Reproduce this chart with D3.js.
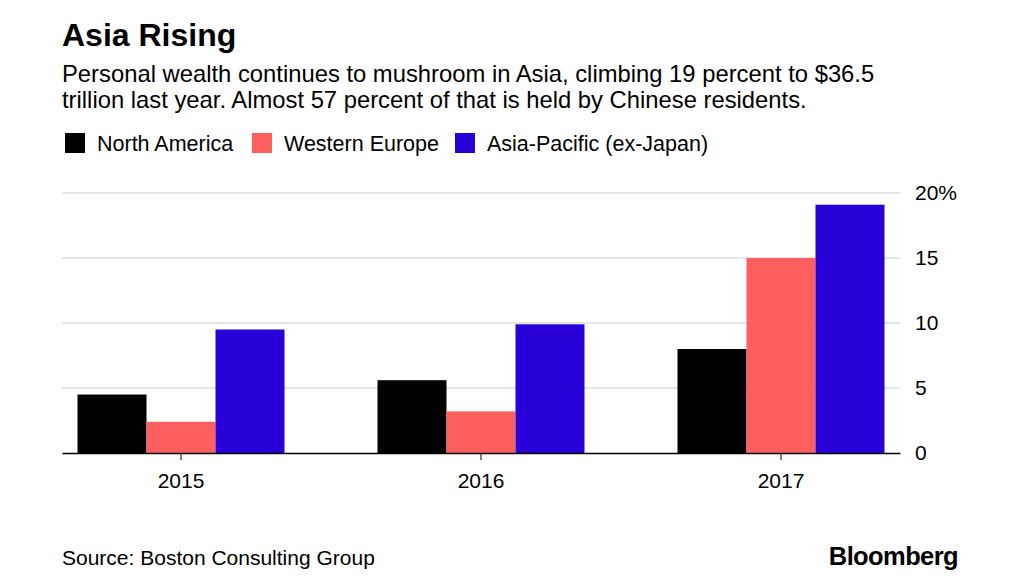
<!DOCTYPE html>
<html><head><meta charset="utf-8">
<script src="https://cdn.jsdelivr.net/npm/d3@7"></script>
<style>body{margin:0;background:#fff}svg{display:block}text{font-family:"Liberation Sans",Arial,sans-serif}</style>
</head><body>
<svg id="c" width="1024" height="576"></svg>
<script>
const years = ["2015", "2016", "2017"];
const seriesNames = ["North America", "Western Europe", "Asia-Pacific (ex-Japan)"];
const northAmerica = [4.5, 5.6, 8.0];
const westernEurope = [2.4, 3.2, 15.0];
const asiaPacific = [9.5, 9.9, 19.1];
const yTicks = [0, 5, 10, 15, 20];
const colors = ["#000000", "#ff5f5f", "#2a00d8"];

const seriesValues = [northAmerica, westernEurope, asiaPacific];
const svg = d3.select("#c");

svg.append("text").attr("x", 62).attr("y", 46).attr("font-size", 32).attr("font-weight", "bold").attr("fill", "#000").text("Asia Rising");
const sub = ["Personal wealth continues to mushroom in Asia, climbing 19 percent to $36.5",
             "trillion last year. Almost 57 percent of that is held by Chinese residents."];
sub.forEach((s, i) => svg.append("text").attr("x", 62).attr("y", 82 + i * 26).attr("font-size", 23.8).attr("fill", "#000").text(s));

// legend
const legendX = [65, 252, 455];
seriesNames.forEach((n, i) => {
  svg.append("rect").attr("x", legendX[i]).attr("y", 133).attr("width", 20).attr("height", 20).attr("fill", colors[i]);
  svg.append("text").attr("x", legendX[i] + 32).attr("y", 151).attr("font-size", 21.5).attr("fill", "#000").text(n);
});

const y = d3.scaleLinear().domain([0, 20]).range([453, 193]);
const x0 = d3.scaleBand().domain(years).range([62, 900]).paddingInner(0.31).paddingOuter(0.0517);
const x1 = d3.scaleBand().domain(seriesNames).range([0, x0.bandwidth()]);

// gridlines
svg.append("g").selectAll("line").data(yTicks.filter(d => d > 0)).join("line")
  .attr("x1", 62).attr("x2", 900).attr("y1", d => y(d)).attr("y2", d => y(d))
  .attr("stroke", "#dcdcdc").attr("stroke-width", 1.5);

// y axis labels
const yAxis = d3.axisRight(y).tickValues(yTicks).tickSize(0).tickPadding(15)
  .tickFormat(d => d === 20 ? "20%" : String(d));
const ya = svg.append("g").attr("transform", "translate(900,0)").call(yAxis);
ya.select(".domain").remove();
ya.selectAll("text").attr("font-size", 21).attr("fill", "#000").attr("font-family", "Liberation Sans, Arial, sans-serif");

// bars
years.forEach((yr, gi) => {
  seriesNames.forEach((sn, si) => {
    const v = seriesValues[si][gi];
    svg.append("rect")
      .attr("x", x0(yr) + x1(sn)).attr("width", x1.bandwidth())
      .attr("y", y(v)).attr("height", y(0) - y(v)).attr("fill", colors[si]);
  });
});

// x axis
const xAxis = d3.axisBottom(x0).tickSize(7).tickPadding(13).tickSizeOuter(0);
const xa = svg.append("g").attr("transform", "translate(0,453)").call(xAxis);
xa.select(".domain").attr("stroke", "#000").attr("stroke-width", 1.5);
xa.selectAll(".tick line").attr("stroke", "#000").attr("stroke-width", 1);
xa.selectAll("text").attr("font-size", 21).attr("fill", "#000").attr("font-family", "Liberation Sans, Arial, sans-serif");

svg.append("text").attr("x", 62).attr("y", 565).attr("font-size", 21).attr("fill", "#000").text("Source: Boston Consulting Group");
svg.append("text").attr("x", 958).attr("y", 565).attr("text-anchor", "end").attr("font-size", 25.5).attr("font-weight", "bold").attr("letter-spacing", -0.6).attr("fill", "#000").text("Bloomberg");
</script>
</body></html>
